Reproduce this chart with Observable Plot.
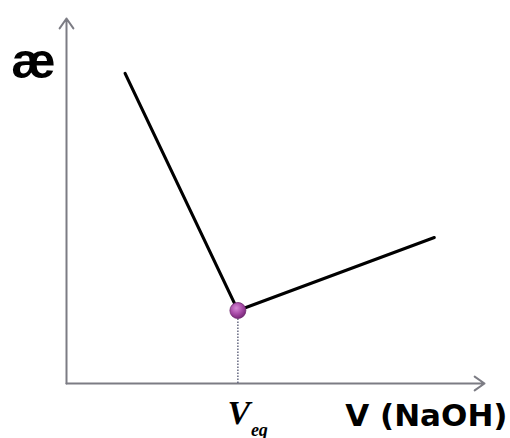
<!DOCTYPE html>
<html>
<head>
<meta charset="utf-8">
<script src="https://cdn.jsdelivr.net/npm/d3@7"></script>
<script src="https://cdn.jsdelivr.net/npm/@observablehq/plot@0.6"></script>
<style>
  body { margin: 0; background: #fff; }
</style>
</head>
<body>
<div id="chart"></div>
<script>
// Conductometric titration: conductivity falls until the equivalence point, then rises
const volume = [1.4, 4.1, 8.8];
const conductivity = [8.5, 2.0, 4.0];
const equivalenceVolume = 4.1;
const equivalenceConductivity = 2.0;
const yLabel = "æ";
const xLabel = "V (NaOH)";
const eqMain = "V";
const eqSub = "eq";

const curve = volume.map((v, i) => ({v, k: conductivity[i]}));
const eq = [{v: equivalenceVolume, k: equivalenceConductivity}];
const axes = [
  {x1: 0, y1: 0, x2: 0, y2: 10},
  {x1: 0, y1: 0, x2: 10, y2: 0}
];

const chart = Plot.plot({
  width: 510,
  height: 438,
  marginLeft: 66,
  marginRight: 26,
  marginTop: 18,
  marginBottom: 55,
  x: {domain: [0, 10], axis: null},
  y: {domain: [0, 10], axis: null},
  marks: [
    Plot.arrow(axes, {
      x1: "x1", y1: "y1", x2: "x2", y2: "y2",
      stroke: "#7c7c84", strokeWidth: 2, headLength: 9, headAngle: 70
    }),
    Plot.ruleX(eq, {
      x: "v", y1: 0, y2: "k",
      stroke: "#5a5e78", strokeWidth: 1.4, strokeDasharray: "1.5,1.5"
    }),
    Plot.line(curve, {x: "v", y: "k", stroke: "#000", strokeWidth: 3}),
    Plot.dot(eq, {
      x: "v", y: "k", r: 8,
      fill: "url(#eqGrad)", stroke: "#6e2a6e", strokeWidth: 0.8
    }),
    Plot.text([yLabel], {
      frameAnchor: "top-left", text: d => d,
      textAnchor: "middle", lineAnchor: "middle",
      dx: -33, dy: 43,
      fontFamily: "Liberation Sans, Arial, sans-serif",
      fontWeight: "bold", fontSize: 50, fill: "#000"
    }),
    Plot.text([xLabel], {
      frameAnchor: "bottom-right", text: d => d,
      textAnchor: "end", lineAnchor: "bottom",
      dx: 23, dy: 42,
      fontFamily: "DejaVu Sans, Verdana, sans-serif",
      fontWeight: "bold", fontSize: 31, fill: "#000"
    }),
    Plot.text(eq, {
      x: "v", frameAnchor: "bottom", text: () => eqMain,
      textAnchor: "middle", lineAnchor: "bottom",
      dx: 1, dy: 40,
      fontFamily: "Liberation Serif, Times New Roman, serif",
      fontStyle: "italic", fontWeight: "bold", fontSize: 34, fill: "#000"
    }),
    Plot.text(eq, {
      x: "v", frameAnchor: "bottom", text: () => eqSub,
      textAnchor: "start", lineAnchor: "bottom",
      dx: 13, dy: 52,
      fontFamily: "Liberation Serif, Times New Roman, serif",
      fontStyle: "italic", fontWeight: "bold", fontSize: 18, fill: "#000"
    })
  ]
});

// radial shading for the equivalence-point marker
const defs = d3.select(chart).insert("defs", ":first-child");
const grad = defs.append("radialGradient")
  .attr("id", "eqGrad").attr("cx", "40%").attr("cy", "35%").attr("r", "65%");
grad.append("stop").attr("offset", "0%").attr("stop-color", "#d68ad6");
grad.append("stop").attr("offset", "60%").attr("stop-color", "#a448a4");
grad.append("stop").attr("offset", "100%").attr("stop-color", "#7a2a7a");

document.getElementById("chart").appendChild(chart);
</script>
</body>
</html>
